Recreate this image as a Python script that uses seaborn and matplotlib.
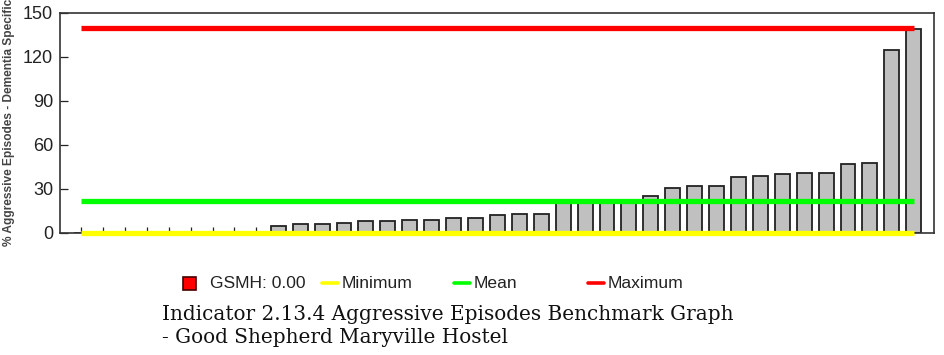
import matplotlib
matplotlib.use("Agg")
import matplotlib.pyplot as plt
import seaborn as sns
import pandas as pd
from matplotlib.lines import Line2D
from matplotlib.patches import Rectangle

# DATA
facility_values = [0, 0, 0, 0, 0, 0, 0, 0, 0,
                   5, 6, 6, 7, 8, 8, 9, 9, 10, 10, 12, 13, 13,
                   21, 21, 21, 21, 25, 31, 32, 32, 38, 39, 40, 41, 41,
                   47, 48, 125, 139]
minimum_value = 0
mean_value = 21.5
maximum_value = 139.5
y_ticks = [0, 30, 60, 90, 120, 150]
legend_labels = ["GSMH: 0.00", "Minimum", "Mean", "Maximum"]
y_label = "% Aggressive Episodes - Dementia Specific"
caption = "Indicator 2.13.4 Aggressive Episodes Benchmark Graph\n- Good Shepherd Maryville Hostel"

df = pd.DataFrame({"idx": range(len(facility_values)), "value": facility_values})

sns.set_style("white")
plt.rcParams["font.family"] = ["Liberation Sans", "DejaVu Sans"]

fig = plt.figure(figsize=(9.45, 3.55), dpi=100)
ax = fig.add_axes([0.0635, 0.3437, 0.925, 0.6197])

sns.barplot(data=df, x="idx", y="value", color="#c0c0c0", saturation=1,
            edgecolor="#222222", linewidth=1.3, width=0.68, ax=ax)

first, last = 0, len(facility_values) - 1
ax.plot([first, last], [minimum_value] * 2, color="#ffff00", lw=3.8, solid_capstyle="butt", zorder=5, clip_on=False)
ax.plot([first, last], [mean_value] * 2, color="#00ff00", lw=3.8, solid_capstyle="butt", zorder=5)
ax.plot([first, last], [maximum_value] * 2, color="#ff0000", lw=3.8, solid_capstyle="butt", zorder=5)

ax.set_xlim(-0.96, last + 0.93)
ax.set_ylim(0, 150)
ax.set_yticks(y_ticks)
ax.set_xlabel("")
ax.set_ylabel("")
ax.set_xticklabels([])
ax.tick_params(axis="x", direction="in", length=4, width=0.9, color="#222222", bottom=True)
ax.tick_params(axis="y", direction="in", length=6, width=0.9, color="#222222", left=True,
               labelsize=13, labelcolor="#222222", pad=5)
for s in ax.spines.values():
    s.set_color("#333333")
    s.set_linewidth(1.2)

fig.text(0.009, 1 - 246 / 355, y_label, rotation=90, fontsize=8.6, fontweight="bold",
         color="#444444", ha="center", va="bottom")

# legend drawn by hand so each entry sits at its own slot
ly = 1 - 283 / 355
fig.add_artist(Rectangle((183 / 945, ly - 6.5 / 355), 13 / 945, 13 / 355,
                         facecolor="#ff0000", edgecolor="#440000", lw=1.2, transform=fig.transFigure))
fig.text(210 / 945, ly, legend_labels[0], fontsize=12.6, va="center", color="#222222")
for x0, col, lab in [(322, "#ffff00", legend_labels[1]), (454, "#00ff00", legend_labels[2]),
                     (588, "#ff0000", legend_labels[3])]:
    fig.add_artist(Line2D([x0 / 945, (x0 + 16) / 945], [ly, ly], color=col, lw=2.6,
                          transform=fig.transFigure))
    fig.text((x0 + 20) / 945, ly, lab, fontsize=12.6, va="center", color="#222222")

fig.text(162 / 945, 1 - 326 / 355, caption, fontsize=14.4, family="DejaVu Serif",
         va="center", ha="left", linespacing=1.3, color="#111111")

fig.savefig("out.png", dpi=100)
